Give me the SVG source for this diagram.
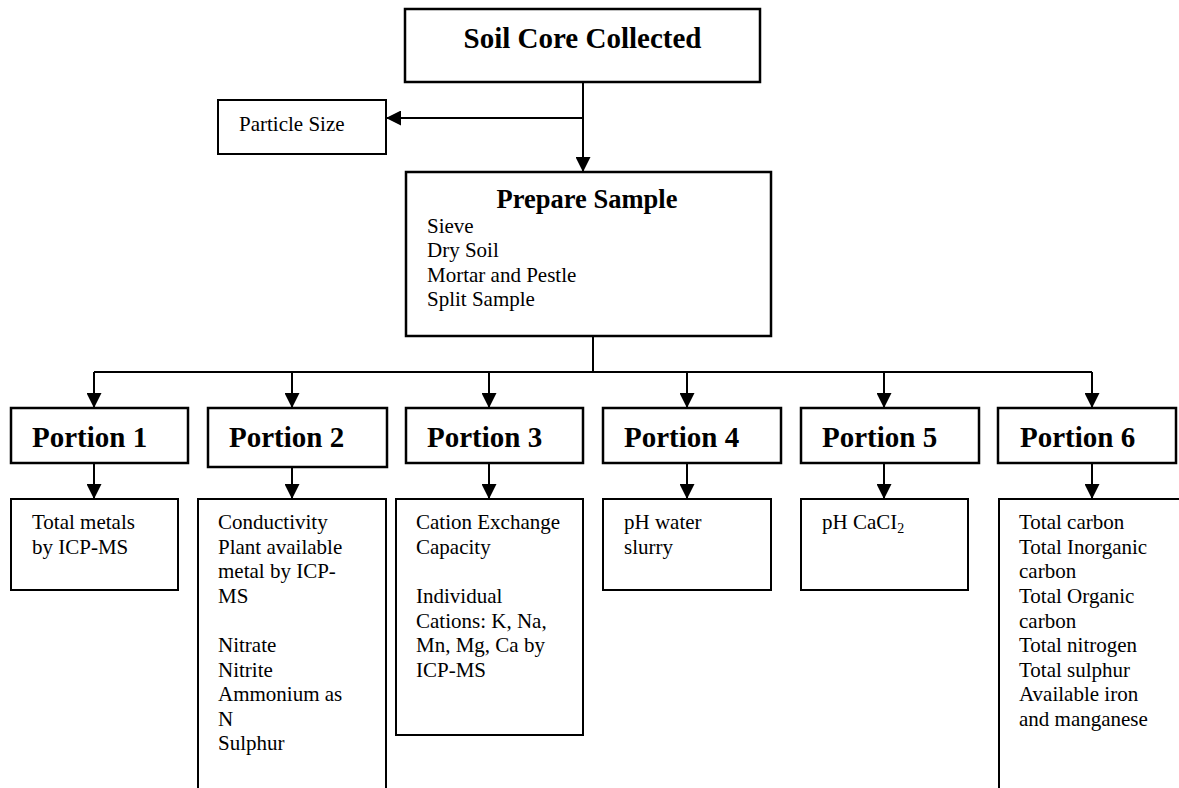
<svg xmlns="http://www.w3.org/2000/svg" width="1179" height="788" viewBox="0 0 1179 788">
  <style>
    .box { fill: #fff; stroke: #000; stroke-width: 2.5; }
    .rbox { fill: #fff; stroke: #000; stroke-width: 2; }
    .title { font-family: "Liberation Serif", "Times New Roman", serif; font-weight: bold; fill: #000; }
    .txt { font-family: "Liberation Serif", "Times New Roman", serif; font-size: 21px; fill: #000; }
    .port { font-family: "Liberation Serif", "Times New Roman", serif; font-weight: bold; font-size: 29px; fill: #000; }
    .conn { fill: none; stroke: #000; stroke-width: 2; }
  </style>
  <defs>
    <marker id="arrow" markerUnits="userSpaceOnUse" markerWidth="15" markerHeight="15" refX="15" refY="7.5" orient="auto">
      <path d="M0,0 L15,7.5 L0,15 z" fill="#000"/>
    </marker>
  </defs>
  <rect width="1179" height="788" fill="#fff"/>

  <!-- connectors -->
  <g id="connectors">
    <path class="conn" d="M583,82 V172" stroke-width="2.5" marker-end="url(#arrow)"/>
    <path class="conn" d="M583,118 H386" marker-end="url(#arrow)"/>
    <path class="conn" d="M593,336 V372 M94,372 H1092"/>
    <path class="conn" d="M94,372 V408" marker-end="url(#arrow)"/>
    <path class="conn" d="M292,372 V408" marker-end="url(#arrow)"/>
    <path class="conn" d="M489,372 V408" marker-end="url(#arrow)"/>
    <path class="conn" d="M687,372 V408" marker-end="url(#arrow)"/>
    <path class="conn" d="M884,372 V408" marker-end="url(#arrow)"/>
    <path class="conn" d="M1092,372 V408" marker-end="url(#arrow)"/>
    <path class="conn" d="M94,463 V499" marker-end="url(#arrow)"/>
    <path class="conn" d="M292,467 V499" marker-end="url(#arrow)"/>
    <path class="conn" d="M489,463 V499" marker-end="url(#arrow)"/>
    <path class="conn" d="M687,463 V499" marker-end="url(#arrow)"/>
    <path class="conn" d="M884,463 V499" marker-end="url(#arrow)"/>
    <path class="conn" d="M1092,463 V499" marker-end="url(#arrow)"/>
  </g>

  <g id="soil-core">
    <rect class="box" x="405" y="9" width="355" height="73" stroke-width="3"/>
    <text class="title" x="582.5" y="48" font-size="29" text-anchor="middle">Soil Core Collected</text>
  </g>

  <g id="particle-size">
    <rect class="rbox" x="218" y="100" width="168" height="54"/>
    <text class="txt" x="239" y="131">Particle Size</text>
  </g>

  <g id="prepare-sample">
    <rect class="box" x="406" y="172" width="365" height="164"/>
    <text class="title" x="587" y="208" font-size="26.5" text-anchor="middle">Prepare Sample</text>
    <text class="txt" x="427" y="233">Sieve</text>
    <text class="txt" x="427" y="257">Dry Soil</text>
    <text class="txt" x="427" y="282">Mortar and Pestle</text>
    <text class="txt" x="427" y="306">Split Sample</text>
  </g>

  <g id="portion-1">
    <rect class="box" x="11" y="408" width="177" height="55"/>
    <text class="port" x="32" y="447">Portion 1</text>
  </g>
  <g id="portion-2">
    <rect class="box" x="208" y="408" width="179" height="59"/>
    <text class="port" x="229" y="447">Portion 2</text>
  </g>
  <g id="portion-3">
    <rect class="box" x="406" y="408" width="177" height="55"/>
    <text class="port" x="427" y="447">Portion 3</text>
  </g>
  <g id="portion-4">
    <rect class="box" x="603" y="408" width="178" height="55"/>
    <text class="port" x="624" y="447">Portion 4</text>
  </g>
  <g id="portion-5">
    <rect class="box" x="801" y="408" width="178" height="55"/>
    <text class="port" x="822" y="447">Portion 5</text>
  </g>
  <g id="portion-6">
    <rect class="box" x="998" y="408" width="178" height="55"/>
    <text class="port" x="1020" y="447">Portion 6</text>
  </g>

  <g id="result-1">
    <rect class="rbox" x="11" y="499" width="167" height="91"/>
    <text class="txt" x="32" y="529">Total metals</text>
    <text class="txt" x="32" y="554">by ICP-MS</text>
  </g>
  <g id="result-2">
    <rect class="rbox" x="198" y="499" width="188" height="310"/>
    <text class="txt" x="218" y="529">Conductivity</text>
    <text class="txt" x="218" y="554">Plant available</text>
    <text class="txt" x="218" y="578">metal by ICP-</text>
    <text class="txt" x="218" y="603">MS</text>
    <text class="txt" x="218" y="652">Nitrate</text>
    <text class="txt" x="218" y="677">Nitrite</text>
    <text class="txt" x="218" y="701">Ammonium as</text>
    <text class="txt" x="218" y="726">N</text>
    <text class="txt" x="218" y="750">Sulphur</text>
  </g>
  <g id="result-3">
    <rect class="rbox" x="396" y="499" width="187" height="236"/>
    <text class="txt" x="416" y="529">Cation Exchange</text>
    <text class="txt" x="416" y="554">Capacity</text>
    <text class="txt" x="416" y="603">Individual</text>
    <text class="txt" x="416" y="628">Cations: K, Na,</text>
    <text class="txt" x="416" y="652">Mn, Mg, Ca by</text>
    <text class="txt" x="416" y="677">ICP-MS</text>
  </g>
  <g id="result-4">
    <rect class="rbox" x="603" y="499" width="168" height="91"/>
    <text class="txt" x="624" y="529">pH water</text>
    <text class="txt" x="624" y="554">slurry</text>
  </g>
  <g id="result-5">
    <rect class="rbox" x="801" y="499" width="167" height="91"/>
    <text class="txt" x="822" y="529">pH CaCI<tspan font-size="14" dy="4">2</tspan></text>
  </g>
  <g id="result-6">
    <rect class="rbox" x="999" y="499" width="200" height="310"/>
    <text class="txt" x="1019" y="529">Total carbon</text>
    <text class="txt" x="1019" y="554">Total Inorganic</text>
    <text class="txt" x="1019" y="578">carbon</text>
    <text class="txt" x="1019" y="603">Total Organic</text>
    <text class="txt" x="1019" y="628">carbon</text>
    <text class="txt" x="1019" y="652">Total nitrogen</text>
    <text class="txt" x="1019" y="677">Total sulphur</text>
    <text class="txt" x="1019" y="701">Available iron</text>
    <text class="txt" x="1019" y="726">and manganese</text>
  </g>
</svg>
